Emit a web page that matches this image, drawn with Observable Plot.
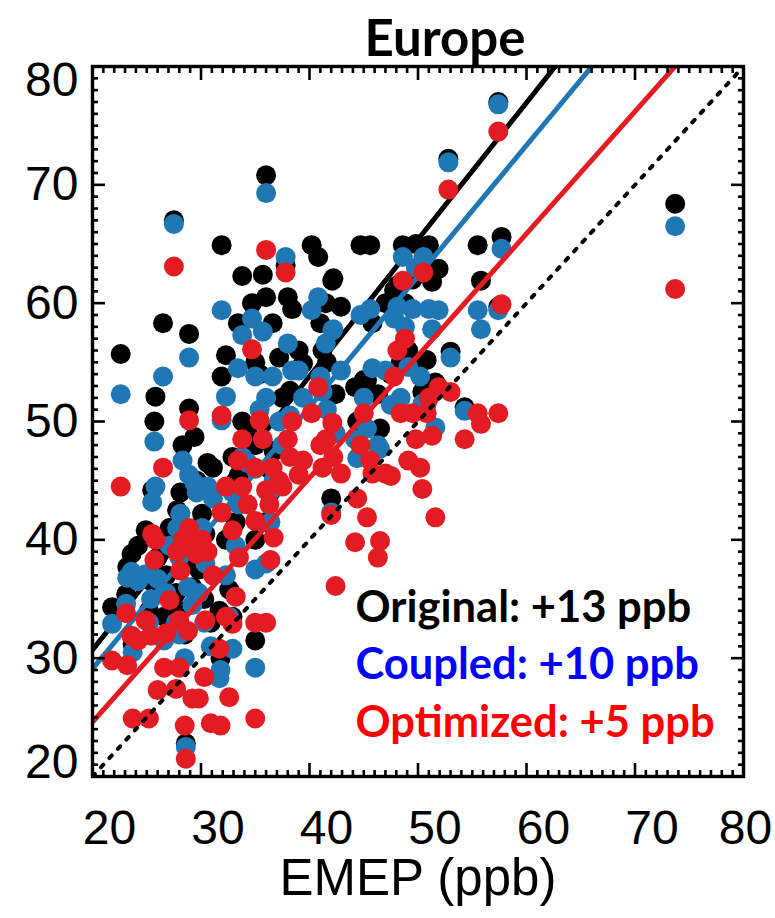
<!DOCTYPE html>
<html>
<head>
<meta charset="utf-8">
<script src="https://cdn.jsdelivr.net/npm/d3@7"></script>
<script src="https://cdn.jsdelivr.net/npm/@observablehq/plot@0.6"></script>
<style>
  html, body { margin: 0; padding: 0; background: #fff; }
  #chart { width: 775px; height: 918px; }
</style>
</head>
<body>
<div id="chart"></div>
<script>
// ---- Data ----
const emep = [21.8,22.6,23.1,23.2,23.6,23.7,24.9,24.2,25.2,25.4,25.5,25.7,26.5,25.8,26.0,26.6,26.8,27.1,27.5,27.7,27.8,28.0,28.0,28.1,28.3,28.5,28.6,28.8,28.9,28.9,29.2,29.4,29.8,29.6,30.1,30.3,30.4,30.6,30.9,31.1,31.7,31.8,31.9,31.9,32.6,32.3,32.3,32.9,32.9,33.2,33.4,33.5,33.8,33.8,34.3,34.7,35.0,35.0,35.0,35.0,35.4,35.7,36.0,36.0,36.0,36.3,36.4,36.6,36.7,37.2,37.5,37.8,38.0,38.2,38.4,39.0,39.4,40.2,40.8,41.0,41.2,41.5,41.6,42.0,42.1,42.4,42.9,42.2,44.2,44.4,44.7,45.0,45.3,45.6,45.8,46.5,46.3,47.0,47.5,47.8,48.1,48.6,48.4,48.8,49.1,49.5,49.8,50.2,50.4,50.5,50.8,51.0,51.3,51.6,51.9,52.8,53.0,54.3,55.5,55.8,57.7,57.4,57.4,73.7];
const original = [34.3,55.7,35.4,37.7,38.8,31.2,40.8,39.5,34.0,36.5,44.2,50.0,58.3,52.1,38.5,33.5,37.0,41.0,67.0,35.5,42.5,40.0,34.0,44.0,48.0,32.0,22.8,38.0,57.4,51.1,36.0,48.7,37.5,45.0,42.2,35.0,40.5,46.5,33.0,46.1,34.0,30.0,53.8,64.9,35.8,55.6,40.0,33.5,47.0,41.5,58.3,45.5,62.3,50.0,49.2,60.0,31.5,40.0,55.0,48.0,54.0,62.4,60.5,70.8,41.5,46.0,44.0,58.3,47.5,55.4,52.0,63.2,60.5,52.6,59.5,56.0,54.9,64.9,63.9,58.3,56.0,60.0,55.0,43.5,61.9,52.3,59.7,62.1,52.9,50.0,64.9,53.5,53.5,64.9,58.3,49.4,52.3,60.0,54.0,61.1,61.5,64.9,55.0,60.0,56.0,62.0,65.0,55.0,52.5,64.5,55.2,64.9,61.8,53.3,62.9,72.2,55.9,51.2,64.9,61.9,65.6,59.7,77.0,68.4];
const coupled = [32.9,52.3,34.6,36.8,37.3,30.5,37.1,36.5,33.0,35.0,43.2,48.3,53.8,44.5,36.7,31.5,35.5,39.5,66.7,33.0,41.0,38.5,32.0,42.2,46.7,30.0,22.5,36.0,55.4,45.5,34.5,44.8,35.5,44.0,41.0,33.0,38.0,44.5,31.0,43.5,28.3,29.0,50.1,59.4,33.5,52.1,37.0,30.8,44.0,39.5,54.5,43.0,57.3,47.0,46.5,58.7,29.2,37.5,53.8,46.0,51.0,57.6,52.0,69.3,38.0,44.0,41.5,53.8,45.0,50.0,48.0,63.9,56.6,50.5,54.3,54.3,52.0,59.4,60.5,53.8,52.5,56.6,51.0,42.3,57.7,49.0,54.3,57.8,48.5,46.9,59.0,52.0,49.4,59.5,54.5,47.7,48.0,54.3,51.4,58.7,59.7,63.9,52.0,58.0,54.6,59.5,63.0,53.8,51.5,63.9,51.5,59.5,57.8,49.5,59.4,71.9,55.4,50.9,59.4,57.8,64.6,59.4,76.8,66.5];
const optimized = [29.8,44.5,33.8,29.4,31.9,24.9,33.2,31.5,24.9,31.9,40.5,38.3,46.1,40.0,27.3,29.2,32.1,34.9,63.1,27.4,39.0,33.2,29.2,37.4,40.0,24.3,21.5,32.3,50.1,41.0,26.6,39.5,26.6,38.8,40.0,28.4,33.2,39.0,24.5,37.0,30.8,24.3,50.5,42.3,26.7,44.5,33.5,32.9,40.8,35.2,46.7,38.5,48.5,44.5,43.0,56.1,24.9,33.0,46.1,41.6,50.1,48.5,44.2,64.5,33.0,43.0,38.3,46.1,40.2,45.0,44.5,62.6,48.5,47.0,50.0,45.5,46.7,50.7,52.9,48.0,46.1,48.5,48.5,42.1,49.9,36.1,45.6,47.0,39.8,43.5,48.0,50.7,41.9,46.7,45.6,39.9,38.5,45.6,45.4,53.8,56.0,61.9,50.7,57.0,46.7,50.7,48.5,46.1,44.3,62.6,50.7,52.0,48.8,41.9,52.9,69.6,52.5,48.5,50.7,49.8,59.9,50.7,74.5,61.2];

// regression fits: value at EMEP = 20 ppb and slope
const seriesNames = ["Original", "Coupled", "Optimized"];
const biasLabels = ["+13 ppb", "+10 ppb", "+5 ppb"];
const fitAt20 = [30.7, 29.1, 24.6];
const fitSlope = [1.156, 1.106, 1.032];

const axisDomain = [20, 80];
const majorTicks = [20, 30, 40, 50, 60, 70, 80];
const minorTicks = d3.range(20, 81, 1).filter(d => d % 10 !== 0);

const title = "Europe";
const xLabel = "EMEP (ppb)";

// ---- Styles ----
const dotColors = ["#000000", "#1f77b4", "#e31b23"];
const legendColors = ["#000000", "#0000ff", "#ff0000"];

const stations = emep.map((x, i) => ({
  emep: x, Original: original[i], Coupled: coupled[i], Optimized: optimized[i]
}));
const fitLines = seriesNames.map((name, k) =>
  axisDomain.map(x => ({series: name, x, y: fitAt20[k] + fitSlope[k] * (x - 20)}))
);
const oneToOne = axisDomain.map(v => ({x: v, y: v}));

const tickStyle = {strokeWidth: 2.6, tickFormat: () => "", label: null};
const labelFont = "Liberation Sans, Arial, Helvetica, sans-serif";
const legendFont = "Lato, 'Open Sans', sans-serif";
const labelStyle = {tickSize: 0, fontSize: 48, fontFamily: labelFont, fill: "#000", label: null, tickFormat: d => String(d)};

const marks = [];
seriesNames.forEach((name, k) => {
  marks.push(Plot.dot(stations, {x: "emep", y: name, r: 10, fill: dotColors[k], stroke: "none"}));
  marks.push(Plot.line(fitLines[k], {x: "x", y: "y", stroke: dotColors[k], strokeWidth: 5, clip: true}));
});
marks.push(Plot.line(oneToOne, {x: "x", y: "y", stroke: "#000", strokeWidth: 4, strokeDasharray: "3.5,9", clip: true}));

// ticks on all four sides (inward)
["bottom", "top"].forEach(a => {
  marks.push(Plot.axisX(minorTicks, {anchor: a, tickSize: -6, ...tickStyle}));
  marks.push(Plot.axisX(majorTicks, {anchor: a, tickSize: -13, ...tickStyle}));
});
["left", "right"].forEach(a => {
  marks.push(Plot.axisY(minorTicks, {anchor: a, tickSize: -6, ...tickStyle}));
  marks.push(Plot.axisY(majorTicks, {anchor: a, tickSize: -13, ...tickStyle}));
});
marks.push(Plot.frame({stroke: "#000", strokeWidth: 3.4}));

// tick labels
marks.push(Plot.axisX(majorTicks.filter(d => d < 80), {anchor: "bottom", tickPadding: 33, dx: 17, ...labelStyle}));
marks.push(Plot.axisX([80], {anchor: "bottom", tickPadding: 33, dx: 2, ...labelStyle}));
marks.push(Plot.axisY(majorTicks.filter(d => d > 20 && d < 80), {anchor: "left", tickPadding: 14, ...labelStyle}));
marks.push(Plot.axisY([80], {anchor: "left", tickPadding: 14, dy: 14, ...labelStyle}));
marks.push(Plot.axisY([20], {anchor: "left", tickPadding: 14, dy: -14, ...labelStyle}));

// axis title and chart title
marks.push(Plot.text([xLabel], {frameAnchor: "bottom", dy: 118, fontSize: 51, fontFamily: labelFont, fill: "#000"}));
marks.push(Plot.text([title], {frameAnchor: "top", dx: 27, dy: -47, fontSize: 51, fontWeight: "bold", fontFamily: legendFont, fill: "#000"}));

// legend (bias annotations)
seriesNames.forEach((name, k) => {
  marks.push(Plot.text([`${name}: ${biasLabels[k]}`], {
    frameAnchor: "bottom-left", dx: 263, dy: -155 + k * 57.5,
    textAnchor: "start", fontSize: 43.5, fontWeight: "bold", fontFamily: legendFont, fill: legendColors[k]
  }));
});

const chart = Plot.plot({
  width: 775,
  height: 918,
  marginTop: 66,
  marginBottom: 142,
  marginLeft: 92,
  marginRight: 32,
  x: {domain: axisDomain, axis: null},
  y: {domain: axisDomain, axis: null},
  style: {fontFamily: labelFont, background: "#fff", overflow: "visible"},
  marks
});
document.getElementById("chart").appendChild(chart);
</script>
</body>
</html>
